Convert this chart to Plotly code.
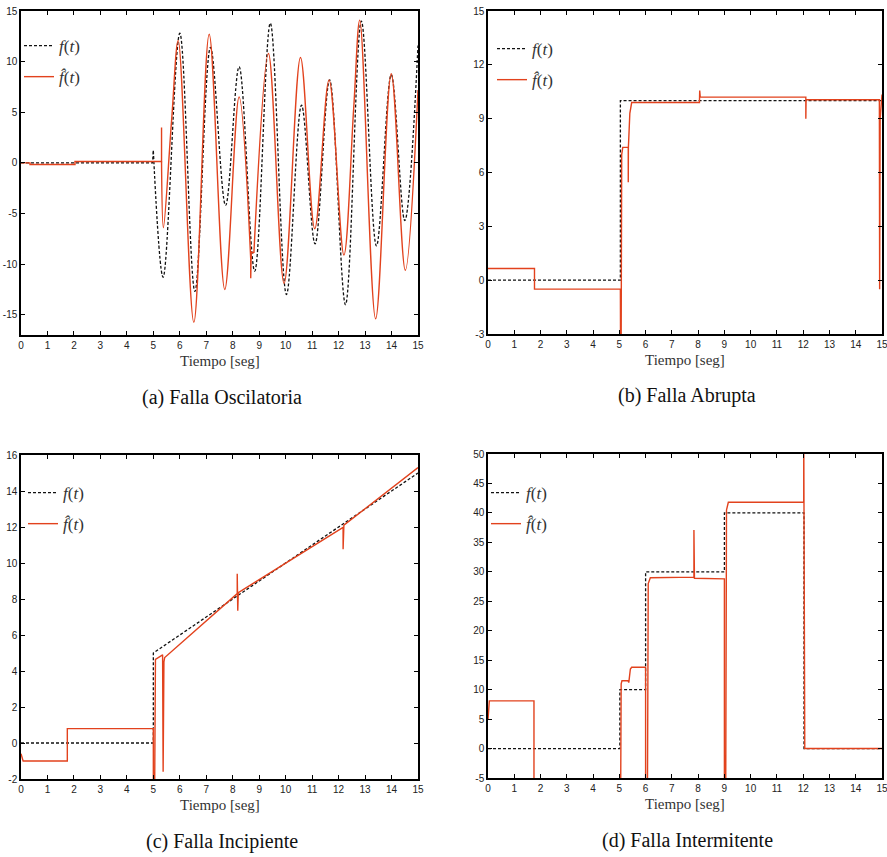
import plotly.graph_objects as go

W, H = 887, 857

# ---------------- data ----------------
# (a) Falla Oscilatoria
t_a_f_step = [0, 4.97, 5.0]
f_a_step = [0, 0, 1.2]
t_a_f_osc = [5.0, 5.37, 6.0, 6.57, 7.16, 7.73, 8.24, 8.83, 9.42, 10.03, 10.6, 11.11,
             11.66, 12.26, 12.86, 13.43, 13.99, 14.5, 15.0]
f_a_osc = [1.2, -11.3, 12.8, -12.7, 11.4, -4.2, 9.5, -10.7, 13.8, -13.0, 5.7, -8.0,
           8.2, -14.0, 14.0, -8.2, 8.7, -5.7, 11.6]
t_a_h_step = [0, 0.34, 0.34, 2.04, 2.04, 5.31, 5.31, 5.31]
h_a_step = [0, 0, -0.16, -0.16, 0.13, 0.13, 3.5, 0.13]
t_a_h_osc1 = [5.31, 5.38, 5.69, 5.94, 6.53, 7.11, 7.7, 8.24, 8.68]
h_a_osc1 = [0.13, -6.4, 4.2, 12.1, -15.75, 12.7, -12.5, 6.5, -9.5]
t_a_h_spike = [8.68, 8.68, 8.70, 8.80]
h_a_spike = [-9.5, -11.4, -8.8, -8.9]
t_a_h_osc2 = [8.80, 9.35, 9.94, 10.56, 11.1, 11.64, 12.2, 12.57, 12.8, 13.4, 13.99, 14.52, 15.0]
h_a_osc2 = [-8.9, 10.8, -11.9, 10.4, -6.5, 8.2, -9.1, 5.4, 14.1, -15.4, 8.8, -10.6, 7.2]

# (b) Falla Abrupta
t_b_f = [0, 5.04, 5.04, 15]
f_b = [0, 0, 10, 10]
t_b_h = [0, 1.77, 1.77, 5.04, 5.045, 5.07, 5.09, 5.13, 5.34, 5.34, 5.345, 5.40, 5.47,
         8.05, 8.06, 8.08, 12.1, 12.1, 12.11, 14.9, 14.91, 14.93, 15.0]
h_b = [0.65, 0.65, -0.5, -0.5, -3.3, -3.3, 7.0, 7.4, 7.4, 5.45, 7.4, 9.3, 9.9,
       9.9, 10.57, 10.2, 10.2, 9.0, 10.05, 10.05, -0.5, 9.0, 10.35]

# (c) Falla Incipiente
t_c_f = [0, 5.0, 5.0, 15]
f_c = [0, 0, 5.0, 15.0]
t_c_h = [0, 0.08, 1.75, 1.75, 5.0, 5.0, 5.05, 5.08, 5.35, 5.37, 5.40, 5.43,
         8.17, 8.17, 8.19, 8.21, 12.17, 12.17, 12.2, 15.0]
h_c = [-0.6, -1.0, -1.0, 0.8, 0.8, -2.5, -2.5, 4.65, 4.9, -1.6, 4.5, 4.75,
       8.3, 9.4, 7.35, 8.35, 11.98, 10.76, 12.1, 15.3]

# (d) Falla Intermitente
t_d_f = [0, 5.02, 5.02, 6.0, 6.0, 9.0, 9.0, 12.03, 12.03, 15]
f_d = [0, 0, 10, 10, 30, 30, 40, 40, 0, 0]
t_d_h = [0, 0.05, 1.75, 1.75, 5.05, 5.07, 5.1, 5.33, 5.36, 5.42, 5.47, 6.0, 6.0,
         6.07, 6.1, 6.18, 7.84, 7.84, 7.86, 9.0, 9.0, 9.05, 9.08, 9.15, 12.02,
         12.02, 12.06, 15.0]
h_d = [4.9, 8.1, 8.1, -8, -8, 11.0, 11.5, 11.5, 11.2, 13.5, 13.8, 13.8, -8,
       -8, 28.0, 29.0, 29.1, 37.1, 28.9, 28.8, -8, -8, 40.5, 41.8, 41.8,
       55, 0, 0]

x_ticks = list(range(0, 16))
y_ticks_a = [-15, -10, -5, 0, 5, 10, 15]
y_ticks_b = [-3, 0, 3, 6, 9, 12, 15]
y_ticks_c = [-2, 0, 2, 4, 6, 8, 10, 12, 14, 16]
y_ticks_d = [-5, 0, 5, 10, 15, 20, 25, 30, 35, 40, 45, 50]
y_ranges = {"a": [-17, 15], "b": [-3, 15], "c": [-2, 16], "d": [-5, 50]}

captions = ["(a) Falla Oscilatoria", "(b) Falla Abrupta", "(c) Falla Incipiente", "(d) Falla Intermitente"]
x_title = "Tiempo [seg]"
name_f = "<i>f</i>(<i>t</i>)"
name_h = "<i>f\u0302</i>(<i>t</i>)"

# ---------------- styling ----------------
RED = "#e2421d"
BLACK = "#111111"
TICK_FONT = dict(family="Liberation Sans Narrow, Liberation Sans, Arial Narrow, sans-serif", size=10, color="#222")
SERIF = "Liberation Serif, Times New Roman, serif"

fig = go.Figure()

def lbl(v):
    return [str(x) for x in v]

panels = [
    # key, xaxis, yaxis, legend, box(l, r, t, b), legend first-row y
    ("a", "x", "y", "legend", (21, 418, 11, 335), 45),
    ("b", "x2", "y2", "legend2", (488, 882, 11, 334), 48),
    ("c", "x3", "y3", "legend3", (21, 418, 455, 779), 492),
    ("d", "x4", "y4", "legend4", (488, 882, 454, 778), 492),
]
legend_sample_left = [28, 501, 32, 495]

def add(x, y, xa, ya, lg, kind, show, shape="linear"):
    if kind == "f":
        line = dict(color=BLACK, width=1.3, dash="3px,2px", shape=shape)
        name = name_f
    else:
        line = dict(color=RED, width=1.4, shape=shape)
        name = name_h
    fig.add_trace(go.Scatter(x=x, y=y, mode="lines", line=line, name=name,
                             xaxis=xa, yaxis=ya, legend=lg, showlegend=show,
                             legendgroup=lg + kind, hoverinfo="skip"))

# panel a
add(t_a_f_step, f_a_step, "x", "y", "legend", "f", True)
add(t_a_f_osc, f_a_osc, "x", "y", "legend", "f", False, "spline")
add(t_a_h_step, h_a_step, "x", "y", "legend", "h", True)
add(t_a_h_osc1, h_a_osc1, "x", "y", "legend", "h", False, "spline")
add(t_a_h_spike, h_a_spike, "x", "y", "legend", "h", False)
add(t_a_h_osc2, h_a_osc2, "x", "y", "legend", "h", False, "spline")
# panel b
add(t_b_f, f_b, "x2", "y2", "legend2", "f", True)
add(t_b_h, h_b, "x2", "y2", "legend2", "h", True)
# panel c
add(t_c_f, f_c, "x3", "y3", "legend3", "f", True)
add(t_c_h, h_c, "x3", "y3", "legend3", "h", True)
# panel d
add(t_d_f, f_d, "x4", "y4", "legend4", "f", True)
add(t_d_h, h_d, "x4", "y4", "legend4", "h", True)

yticks = {"a": y_ticks_a, "b": y_ticks_b, "c": y_ticks_c, "d": y_ticks_d}

layout = dict(
    width=W, height=H, paper_bgcolor="white", plot_bgcolor="white",
    margin=dict(l=0, r=0, t=0, b=0, pad=0, autoexpand=False), showlegend=True,
)
annotations = []
for i, (key, xa, ya, lg, (l, r, t, b), row1) in enumerate(panels):
    xname = "xaxis" + ("" if xa == "x" else xa[1:])
    yname = "yaxis" + ("" if ya == "y" else ya[1:])
    common = dict(showline=True, linecolor="black", mirror="ticks", ticks="inside",
                  ticklen=4, tickwidth=1, tickcolor="black", showgrid=False,
                  zeroline=False, tickfont=TICK_FONT, fixedrange=True,
                  automargin=False, ticklabeloverflow="allow")
    layout[xname] = dict(domain=[l / W, r / W], range=[0, 15], anchor=ya,
                         tickvals=x_ticks, ticktext=lbl(x_ticks), linewidth=1.8, **common)
    layout[yname] = dict(domain=[1 - b / H, 1 - t / H], range=y_ranges[key], anchor=xa,
                         tickvals=yticks[key], ticktext=lbl(yticks[key]), linewidth=1.5, **common)
    layout[lg] = dict(x=(legend_sample_left[i] - 9) / W, y=1 - (row1 - 17) / H,
                      xanchor="left", yanchor="top",
                      bgcolor="rgba(0,0,0,0)", borderwidth=0, itemwidth=30,
                      traceorder="grouped", tracegroupgap=6,
                      font=dict(family=SERIF, size=17, color="#333"))
    cx = (l + r) / 2
    annotations.append(dict(text=x_title, x=cx / W, y=1 - (b + 26) / H, xref="paper", yref="paper",
                            showarrow=False, xanchor="center", yanchor="middle",
                            font=dict(family=SERIF, size=15, color="#333")))
    annotations.append(dict(text=captions[i], x=(cx + 2) / W, y=1 - (b + 62) / H, xref="paper", yref="paper",
                            showarrow=False, xanchor="center", yanchor="middle",
                            font=dict(family=SERIF, size=20, color="#111")))
layout["annotations"] = annotations
fig.update_layout(**layout)

fig.write_html("out.html", config={"displayModeBar": False},
               post_script="document.body.style.margin='0';document.body.style.overflow='hidden';")
